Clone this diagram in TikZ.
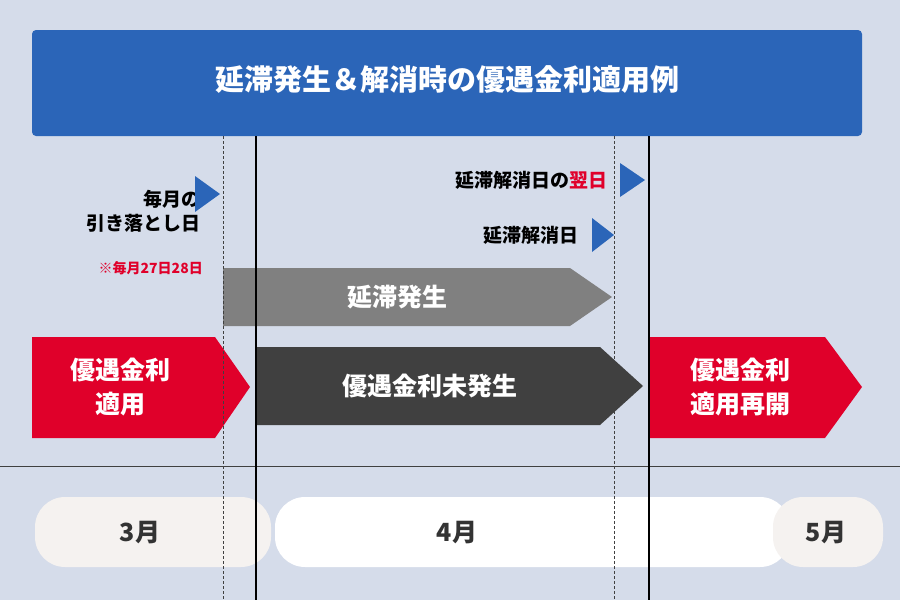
\documentclass[tikz,border=0pt]{standalone}
\usepackage{fontspec}
\setmainfont{Noto Sans CJK JP}
\definecolor{bg}{HTML}{D5DCEA}
\definecolor{tblue}{HTML}{2B65B8}
\definecolor{ared}{HTML}{E0002A}
\definecolor{agray}{HTML}{808080}
\definecolor{adark}{HTML}{404040}
\definecolor{pill}{HTML}{F5F2F0}
\definecolor{txt}{HTML}{333333}
\tikzset{
 lbl/.style={font=\bfseries\fontsize{19}{24}\selectfont,text=black,anchor=east,align=right,inner sep=0},
 atext/.style={font=\bfseries\fontsize{25}{34}\selectfont,text=white,align=center,inner sep=0},
 mtext/.style={font=\bfseries\fontsize{25}{30}\selectfont,text=txt,inner sep=0},
 tri/.style={fill=tblue},
 dline/.style={densely dashed,draw=adark,line width=0.7pt},
 sline/.style={draw=black,line width=2.6pt}
}
\begin{document}
\begin{tikzpicture}[x=1pt,y=-1pt]
\fill[bg] (0,0) rectangle (900,600);
\useasboundingbox (0,0) rectangle (900,600);
\fill[tblue,rounded corners=4pt] (32,30) rectangle (862,136);
\node[font=\bfseries\fontsize{29}{34}\selectfont,text=white] (title) at (447,80) {延滞発生＆解消時の優遇金利適用例};
% pills
\fill[pill,rounded corners=30pt] (35,497) rectangle (271,567);
\node[mtext] (m3) at (140,533) {3月};
\fill[white,rounded corners=30pt] (275,497) rectangle (790,567);
\node[mtext] (m4) at (457,533) {4月};
\fill[pill,rounded corners=30pt] (773,497) rectangle (883,567);
\node[mtext] (m5) at (826,533) {5月};
\draw[adark,line width=0.8pt] (0,466) -- (900,466);
% arrows
\fill[agray] (223,268) -- (570,268) -- (612,297) -- (570,326) -- (223,326) -- cycle;
\node[atext] (a1) at (397,297) {延滞発生};
\fill[ared] (32,337) -- (215,337) -- (250,387) -- (215,438) -- (32,438) -- cycle;
\node[atext] (a2) at (120,387) {優遇金利\\適用};
\fill[adark] (257,347) -- (600,347) -- (643,386) -- (600,425) -- (257,425) -- cycle;
\node[atext] (a3) at (430,386) {優遇金利未発生};
\fill[ared] (650,337) -- (825,337) -- (862,387) -- (825,438) -- (650,438) -- cycle;
\node[atext] (a4) at (740,387) {優遇金利\\適用再開};
% vertical lines
\draw[dline] (223,136) -- (223,600);
\draw[dline] (614,136) -- (614,600);
\draw[sline] (256,136) -- (256,600);
\draw[sline] (649,136) -- (649,600);
% labels
\node[lbl] (l1) at (201,211) {毎月の\\引き落とし日};
\fill[tri] (195,176) -- (220,194) -- (195,212) -- cycle;
\node[lbl,text=ared,font=\bfseries\fontsize{14}{16}\selectfont] (l2) at (203,268) {※毎月27日28日};
\node[lbl] (l3) at (608,180) {延滞解消日の\textcolor{ared}{翌日}};
\fill[tri] (620,163) -- (645,180) -- (620,197) -- cycle;
\node[lbl] (l4) at (579,235) {延滞解消日};
\fill[tri] (592,218) -- (614,235) -- (592,252) -- cycle;
\end{tikzpicture}
\end{document}
